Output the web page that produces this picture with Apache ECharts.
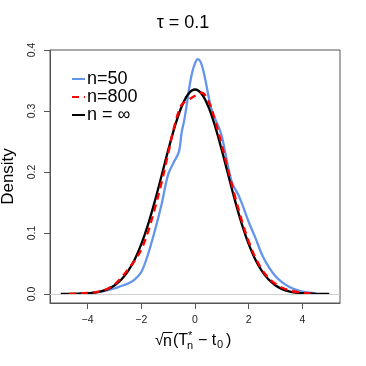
<!DOCTYPE html>
<html>
<head>
<meta charset="utf-8">
<script src="https://cdn.jsdelivr.net/npm/echarts@6/dist/echarts.min.js"></script>
<style>
html,body{margin:0;padding:0;background:#fff;}
#chart{width:366px;height:366px;}
</style>
</head>
<body>
<div id="chart"></div>
<script>
// ---- data ----
var xTicks = [-4, -2, 0, 2, 4];
var yTicks = [0.0, 0.1, 0.2, 0.3, 0.4];
var seriesNames = ['n=50', 'n=800', 'n = \u221e'];

// n = 50 (blue)
var x50 = [-4.25,-4.0,-3.5,-3.0,-2.75,-2.5,-2.25,-2.0,-1.75,-1.5,-1.25,-1.0,-0.8,-0.6,-0.5,-0.4,-0.3,-0.2,-0.1,0.0,0.1,0.2,0.3,0.4,0.5,0.6,0.75,0.9,1.0,1.1,1.25,1.4,1.6,1.75,2.0,2.25,2.5,2.75,3.0,3.25,3.5,3.75,4.0,4.25,4.5];
var y50 = [0.0003,0.0012,0.0038,0.0090,0.0130,0.0170,0.0235,0.0360,0.0650,0.1030,0.1460,0.1960,0.2150,0.2330,0.2640,0.2850,0.3120,0.3420,0.3640,0.3780,0.3850,0.3810,0.3680,0.3480,0.3250,0.3050,0.2870,0.2720,0.2580,0.2380,0.2050,0.1800,0.1640,0.1480,0.1180,0.0920,0.0640,0.0440,0.0290,0.0190,0.0120,0.0072,0.0040,0.0020,0.0008];

// n = 800 (red dashed)
var x800 = [-4.7,-4.5,-4.25,-4.0,-3.75,-3.5,-3.25,-3.0,-2.75,-2.5,-2.25,-2.0,-1.75,-1.5,-1.25,-1.0,-0.75,-0.5,-0.25,0.0,0.25,0.5,0.75,1.0,1.25,1.5,1.75,2.0,2.25,2.5,2.75,3.0,3.25,3.5,3.75,4.0,4.25,4.5];
var y800 = [0.0002,0.0005,0.0009,0.0016,0.0027,0.0048,0.0085,0.0155,0.0265,0.0400,0.0545,0.0730,0.1020,0.1400,0.1820,0.2300,0.2780,0.3100,0.3180,0.3250,0.3300,0.3160,0.2840,0.2440,0.2000,0.1580,0.1190,0.0860,0.0595,0.0395,0.0255,0.0165,0.0102,0.0062,0.0036,0.0020,0.0010,0.0004];

// n = infinity (black)
var xInf = [-5.0,-4.5,-4.0,-3.75,-3.5,-3.25,-3.0,-2.75,-2.5,-2.25,-2.0,-1.75,-1.5,-1.25,-1.0,-0.75,-0.5,-0.25,0.0,0.25,0.5,0.75,1.0,1.25,1.5,1.75,2.0,2.25,2.5,2.75,3.0,3.25,3.5,3.75,4.0,4.5,5.0];
var yInf = [0.0000,0.0003,0.0012,0.0023,0.0044,0.0080,0.0140,0.0232,0.0369,0.0561,0.0816,0.1137,0.1515,0.1931,0.2355,0.2748,0.3069,0.3279,0.3352,0.3279,0.3069,0.2748,0.2355,0.1931,0.1515,0.1137,0.0816,0.0561,0.0369,0.0232,0.0140,0.0080,0.0044,0.0023,0.0012,0.0003,0.0000];

function pairs(xs, ys){ return xs.map(function(x,i){ return [x, ys[i]]; }); }

var FONT = '"Liberation Sans", Arial, Helvetica, sans-serif';
var AX = '#555';

var chart = echarts.init(document.getElementById('chart'), null, {renderer:'canvas'});
chart.setOption({
  animation: false,
  backgroundColor: '#fff',
  textStyle: {fontFamily: FONT},
  grid: {left: 50, right: 26, top: 50, bottom: 63, show: true, borderColor: AX, borderWidth: 1, containLabel: false},
  legend: {
    orient: 'vertical', left: 71, top: 70, padding: 0,
    itemWidth: 13, itemHeight: 10, itemGap: 0,
    data: seriesNames,
    itemStyle: {opacity: 0},
    textStyle: {fontSize: 18, lineHeight: 17.5, color: '#000', fontFamily: FONT, padding: [0,0,0,-3]}
  },
  xAxis: {
    type: 'value', min: -5.4, max: 5.4,
    splitLine: {show: false},
    axisLine: {show: true, onZero: false, lineStyle: {color: AX, width: 1}},
    axisTick: {show: true, customValues: xTicks, length: 6, lineStyle: {color: AX}},
    axisLabel: {customValues: xTicks, fontSize: 10.5, color: '#222', margin: 12, fontFamily: FONT,
      formatter: function(v){ return v < 0 ? '\u2212' + Math.abs(v) : String(v); }}
  },
  yAxis: {
    type: 'value', min: -0.0148, max: 0.4,
    splitLine: {show: false},
    axisLine: {show: true, onZero: false, lineStyle: {color: AX, width: 1}},
    axisTick: {show: true, customValues: yTicks, length: 6, lineStyle: {color: AX}},
    axisLabel: {customValues: yTicks, fontSize: 10.5, color: '#222', margin: 12, rotate: 90, fontFamily: FONT,
      formatter: function(v){ return v.toFixed(1); }}
  },
  series: [
    {name: seriesNames[0], type: 'line', data: pairs(x50, y50), smooth: 0.35, symbol: 'none', showSymbol: false,
     lineStyle: {color: '#6495ED', width: 2.3}, itemStyle: {color: '#6495ED'}, z: 2,
     markLine: {silent: true, symbol: 'none', label: {show: false}, animation: false,
       lineStyle: {color: '#d0d0d0', width: 1, type: 'solid'}, data: [{yAxis: 0}]}},
    {name: seriesNames[2], type: 'line', data: pairs(xInf, yInf), smooth: 0.35, symbol: 'none', showSymbol: false,
     lineStyle: {color: '#000', width: 2.3}, itemStyle: {color: '#000'}, z: 3},
    {name: seriesNames[1], type: 'line', data: pairs(x800, y800), smooth: 0.35, symbol: 'none', showSymbol: false,
     lineStyle: {color: '#ff0000', width: 2.4, type: [7, 5]}, itemStyle: {color: '#ff0000'}, z: 4}
  ],
  graphic: [
    {type: 'text', left: 'center', top: 14, style: {text: '\u03c4 = 0.1', font: '18px ' + FONT, fill: '#000'}, x: 0},
    {type: 'text', x: 8, y: 176.5, rotation: Math.PI/2,
     style: {text: 'Density', font: '17px ' + FONT, fill: '#000', align: 'center', verticalAlign: 'middle'}},
    // x-axis title: sqrt(n)(T_n^* - t_0)
    {type: 'text', x: 155, y: 341, style: {text: '\u221a', font: '16px ' + FONT, fill: '#000', verticalAlign: 'middle'}},
    {type: 'line', shape: {x1: 163, y1: 332.5, x2: 172.5, y2: 332.5}, style: {stroke: '#000', lineWidth: 1}},
    {type: 'text', x: 163, y: 341.5, style: {text: 'n', font: '16px ' + FONT, fill: '#000', verticalAlign: 'middle'}},
    {type: 'text', x: 173, y: 341, style: {text: '(T', font: '16px ' + FONT, fill: '#000', verticalAlign: 'middle'}},
    {type: 'text', x: 188, y: 336, style: {text: '*', font: '11px ' + FONT, fill: '#000', verticalAlign: 'middle'}},
    {type: 'text', x: 187, y: 346, style: {text: 'n', font: '11px ' + FONT, fill: '#000', verticalAlign: 'middle'}},
    {type: 'text', x: 198, y: 341, style: {text: '\u2212 t', font: '16px ' + FONT, fill: '#000', verticalAlign: 'middle'}},
    {type: 'text', x: 217, y: 345, style: {text: '0', font: '11px ' + FONT, fill: '#000', verticalAlign: 'middle'}},
    {type: 'text', x: 226, y: 341, style: {text: ')', font: '16px ' + FONT, fill: '#000', verticalAlign: 'middle'}}
  ]
});
</script>
</body>
</html>
